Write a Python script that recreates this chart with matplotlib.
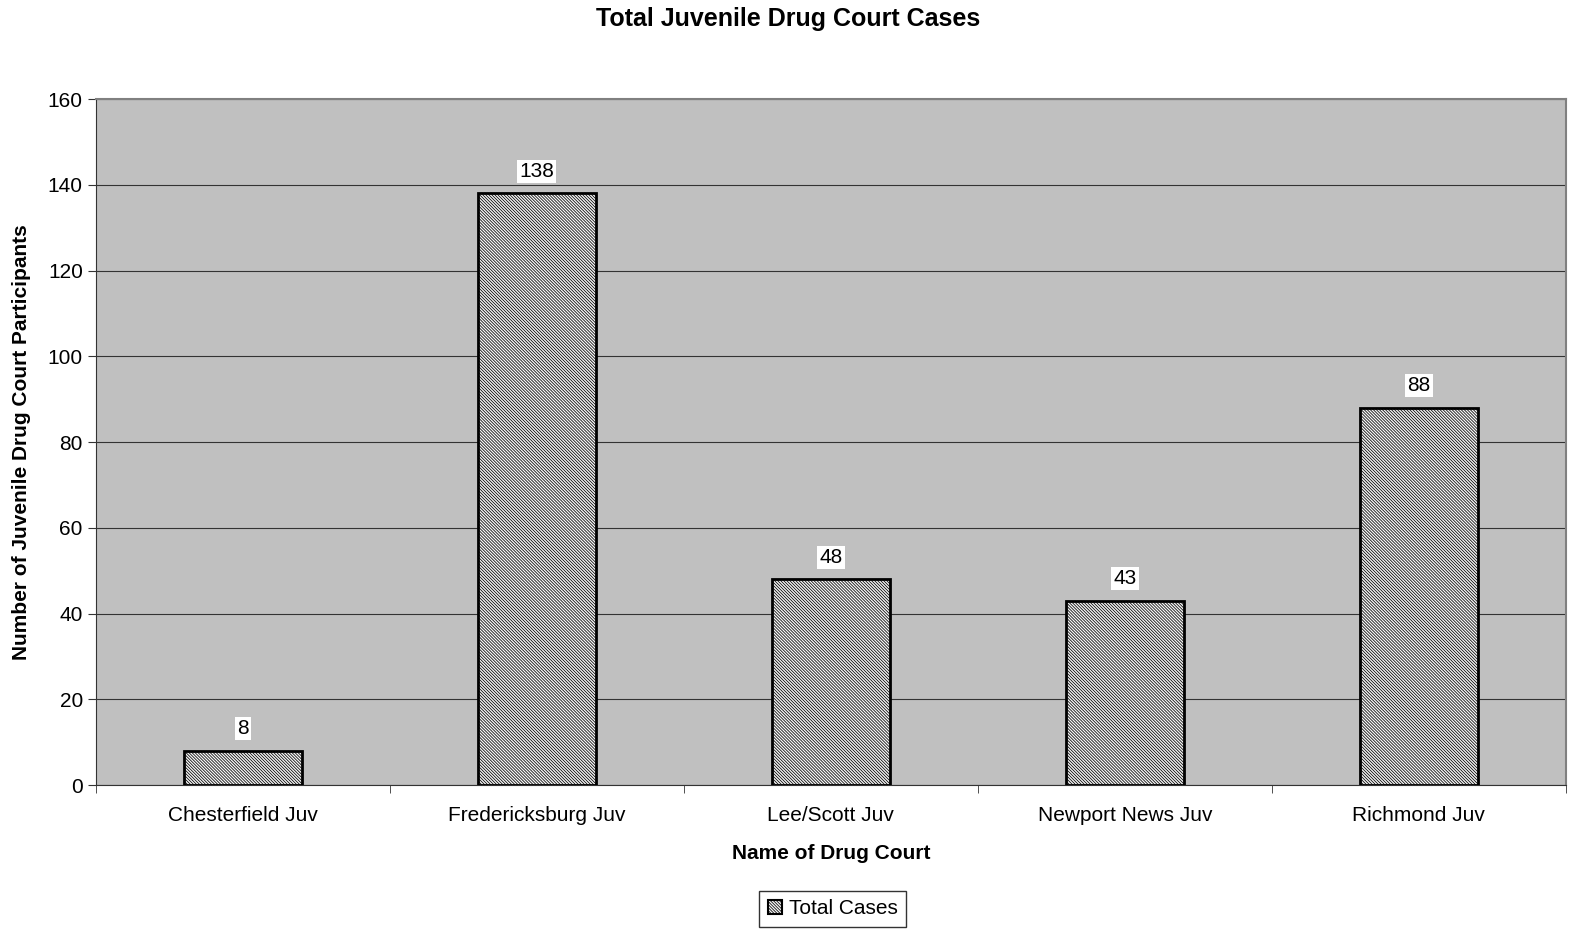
import matplotlib.pyplot as plt
from matplotlib.patches import Patch

courts = ["Chesterfield Juv", "Fredericksburg Juv", "Lee/Scott Juv",
          "Newport News Juv", "Richmond Juv"]
total_cases = [8, 138, 48, 43, 88]

plt.rcParams["font.family"] = ["Liberation Sans", "DejaVu Sans"]
plt.rcParams["hatch.linewidth"] = 0.55
plt.rcParams["hatch.color"] = "#404040"

fill = "#f4f4f4"
pattern = "\\" * 11

fig = plt.figure(figsize=(15.77, 9.35), dpi=100)
ax = fig.add_axes([0.0609, 0.1604, 0.932, 0.7337])
ax.set_facecolor("#c0c0c0")

x = list(range(len(courts)))
bars = ax.bar(x, total_cases, width=0.4, color=fill, edgecolor="black",
              linewidth=2, hatch=pattern, zorder=3)

for xi, v in zip(x, total_cases):
    ax.annotate(str(v), (xi, v), xytext=(0, 9), textcoords="offset points",
                ha="center", va="bottom", fontsize=15,
                bbox=dict(facecolor="white", edgecolor="none", pad=1.5), zorder=4)

ax.set_xlim(-0.5, len(courts) - 0.5)
ax.set_ylim(0, 160)
ax.set_yticks(range(0, 161, 20))
ax.yaxis.grid(True, color="#333333", linewidth=0.8, zorder=1)

ax.set_xticks(x)
ax.set_xticklabels(courts, fontsize=15)
ax.tick_params(axis="x", length=0, pad=15)
ax.set_xticks([i + 0.5 for i in range(-1, len(courts))], minor=True)
ax.tick_params(axis="x", which="minor", length=6, direction="out", color="#333333")
ax.tick_params(axis="y", labelsize=15, length=6, direction="out", color="#333333")

for side in ["top", "right"]:
    ax.spines[side].set_color("#808080")
    ax.spines[side].set_linewidth(1.5)
ax.spines["left"].set_color("#333333")
ax.spines["bottom"].set_color("#333333")

ax.set_xlabel("Name of Drug Court", fontsize=15, fontweight="bold", labelpad=14)
ax.set_ylabel("Number of Juvenile Drug Court Participants", fontsize=15,
              fontweight="bold", labelpad=12)
fig.suptitle("Total Juvenile Drug Court Cases", fontsize=18, fontweight="bold", y=0.992)

handle = Patch(facecolor=fill, edgecolor="black", hatch=pattern, linewidth=1.5)
fig.legend([handle], ["Total Cases"], loc="center", bbox_to_anchor=(0.528, 0.028),
           fontsize=15, frameon=True, fancybox=False, edgecolor="black",
           handlelength=0.7, handleheight=0.7, handletextpad=0.3, borderpad=0.4)

fig.savefig("out.png", dpi=100)
